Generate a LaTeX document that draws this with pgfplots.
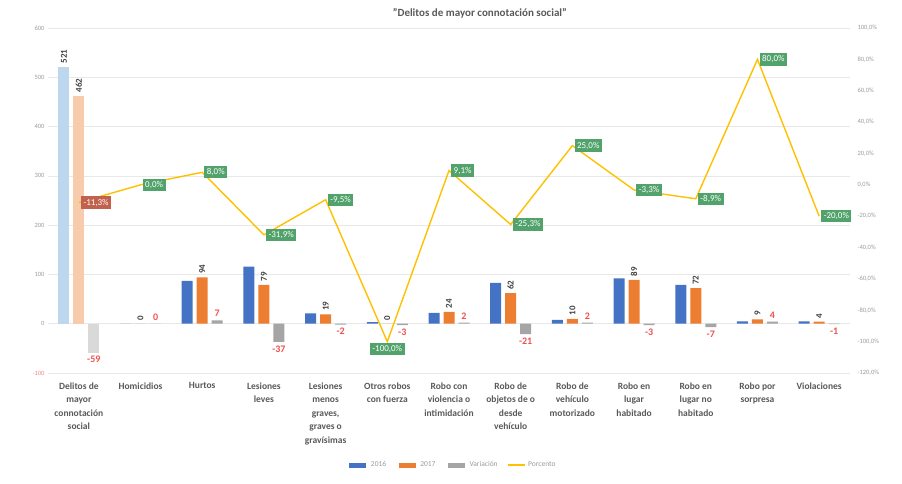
\documentclass[border=0pt]{standalone}
\usepackage{pgfplots}
\pgfplotsset{compat=1.18}
\usepackage{fontspec}
\setmainfont{Carlito}
\definecolor{cA}{HTML}{4472C4}
\definecolor{cB}{HTML}{ED7D31}
\definecolor{cV}{HTML}{A5A5A5}
\definecolor{cL}{HTML}{FFC000}
\definecolor{cAl}{HTML}{BDD7EE}
\definecolor{cBl}{HTML}{F8CBAD}
\definecolor{cVl}{HTML}{D9D9D9}
\definecolor{gbox}{HTML}{52A26C}
\definecolor{rbox}{HTML}{C0624E}
\definecolor{labtxt}{HTML}{404040}
\definecolor{cattxt}{HTML}{595959}
\definecolor{vartxt}{HTML}{F0504F}
\definecolor{ticktxt}{HTML}{9A9A9A}
\begin{document}
\begin{tikzpicture}
\useasboundingbox (-48pt,-110pt) rectangle (854pt,373pt);
\begin{axis}[
  at={(0pt,0pt)}, anchor=south west,
  width=802pt, height=345pt, scale only axis,
  xmin=-0.5, xmax=12.5, ymin=-100, ymax=600,
  axis line style={draw=none}, major tick length=0pt,
  ymajorgrids, grid style={gray!18, line width=0.6pt},
  ytick={-100,0,100,200,300,400,500,600},
  yticklabels={\textcolor{vartxt!70}{-100},0,100,200,300,400,500,600},
  yticklabel style={font=\fontsize{6.5}{7}\selectfont, text=ticktxt},
  xtick={0,...,12},
  xticklabels={{Delitos de\\mayor\\connotación\\social},Homicidios,Hurtos,{Lesiones\\leves},{Lesiones\\menos\\graves,\\graves o\\gravísimas},{Otros robos\\con fuerza},{Robo con\\violencia o\\intimidación},{Robo de\\objetos de o\\desde\\vehículo},{Robo de\\vehículo\\motorizado},{Robo en\\lugar\\habitado},{Robo en\\lugar no\\habitado},{Robo por\\sorpresa},Violaciones},
  xticklabel style={align=center, anchor=north, yshift=-6pt, font=\bfseries\fontsize{9.5}{13.5}\selectfont, text=cattxt},
  /pgf/number format/assume math mode=true,
  clip=false,
]
% first category (highlighted, lighter)
\addplot[ybar, bar width=11pt, bar shift=-15pt, fill=cAl, draw=none,
  nodes near coords, every node near coord/.append style={xshift=-15pt, rotate=90, anchor=west, font=\bfseries\fontsize{9}{10}\selectfont, text=labtxt}]
  coordinates {(0,521)};
\addplot[ybar, bar width=11pt, bar shift=0pt, fill=cBl, draw=none,
  nodes near coords, every node near coord/.append style={rotate=90, anchor=west, font=\bfseries\fontsize{9}{10}\selectfont, text=labtxt}]
  coordinates {(0,462)};
\addplot[ybar, bar width=11pt, bar shift=15pt, fill=cVl, draw=none,
  nodes near coords, every node near coord/.append style={xshift=15pt, font=\bfseries\fontsize{10}{11}\selectfont, text=vartxt}]
  coordinates {(0,-59)};
% other categories
\addplot[ybar, bar width=11pt, bar shift=-15pt, fill=cA, draw=none]
  coordinates {(1,0) (2,87) (3,116) (4,21) (5,3) (6,22) (7,83) (8,8) (9,92) (10,79) (11,5) (12,5)};
\addplot[ybar, bar width=11pt, bar shift=0pt, fill=cB, draw=none,
  nodes near coords, every node near coord/.append style={rotate=90, anchor=west, font=\bfseries\fontsize{9}{10}\selectfont, text=labtxt}]
  coordinates {(1,0) (2,94) (3,79) (4,19) (5,0) (6,24) (7,62) (8,10) (9,89) (10,72) (11,9) (12,4)};
\addplot[ybar, bar width=11pt, bar shift=15pt, fill=cV, draw=none,
  nodes near coords, every node near coord/.append style={xshift=15pt, font=\bfseries\fontsize{10}{11}\selectfont, text=vartxt}]
  coordinates {(1,0) (2,7) (3,-37) (4,-2) (5,-3) (6,2) (7,-21) (8,2) (9,-3) (10,-7) (11,4) (12,-1)};
\node[font=\bfseries\fontsize{11}{12}\selectfont, text=cattxt] at (axis cs:6.5,630) {"Delitos de mayor connotación social"};
\end{axis}
\begin{axis}[
  at={(0pt,0pt)}, anchor=south west,
  width=802pt, height=345pt, scale only axis,
  xmin=-0.5, xmax=12.5, ymin=-120, ymax=100,
  axis y line*=right, hide x axis,
  axis line style={draw=none}, major tick length=0pt,
  ytick={-120,-100,...,100},
  yticklabel={\pgfmathprintnumber[fixed,fixed zerofill,precision=1,use comma]{\tick}\%},
  yticklabel style={font=\fontsize{6.5}{7}\selectfont, text=ticktxt, xshift=4pt},
  /pgf/number format/assume math mode=true,
  clip=false,
  legend columns=4,
  legend style={at={(0.504,-0.267)}, anchor=center, draw=none, fill=none, font=\fontsize{7.5}{8}\selectfont, text=ticktxt, /tikz/every even column/.append style={column sep=8pt}},
]
\addlegendimage{line width=5pt, color=cA}
\addlegendentry{2016}
\addlegendimage{line width=5pt, color=cB}
\addlegendentry{2017}
\addlegendimage{line width=5pt, color=cV}
\addlegendentry{Variación}
\addplot[color=cL, line width=1.4pt, mark=none]
  coordinates {(0,-11.3) (1,0) (2,8.0) (3,-31.9) (4,-9.5) (5,-100) (6,9.1) (7,-25.3) (8,25.0) (9,-3.3) (10,-8.9) (11,80.0) (12,-20.0)};
\addlegendentry{Porcento}
\addplot[draw=none, forget plot, nodes near coords, point meta=explicit symbolic,
  every node near coord/.append style={anchor=west, xshift=2pt, fill=gbox, text=white, inner sep=2.5pt, font=\fontsize{9}{10}\selectfont}]
  coordinates {(1,0) [{0,0\%}] (2,8.0) [{8,0\%}] (3,-31.9) [{-31,9\%}] (4,-9.5) [{-9,5\%}] (6,9.1) [{9,1\%}] (7,-25.3) [{-25,3\%}] (8,25.0) [{25,0\%}] (9,-3.3) [{-3,3\%}] (10,-8.9) [{-8,9\%}] (11,80.0) [{80,0\%}] (12,-20.0) [{-20,0\%}]};
\addplot[draw=none, forget plot, nodes near coords, point meta=explicit symbolic,
  every node near coord/.append style={anchor=west, xshift=2pt, fill=rbox, text=white, inner sep=2.5pt, font=\fontsize{9}{10}\selectfont}]
  coordinates {(0,-11.3) [{-11,3\%}]};
\addplot[draw=none, forget plot, nodes near coords, point meta=explicit symbolic,
  every node near coord/.append style={anchor=north, yshift=-1pt, fill=gbox, text=white, inner sep=2.5pt, font=\fontsize{9}{10}\selectfont}]
  coordinates {(5,-100) [{-100,0\%}]};
\end{axis}
\end{tikzpicture}
\end{document}
